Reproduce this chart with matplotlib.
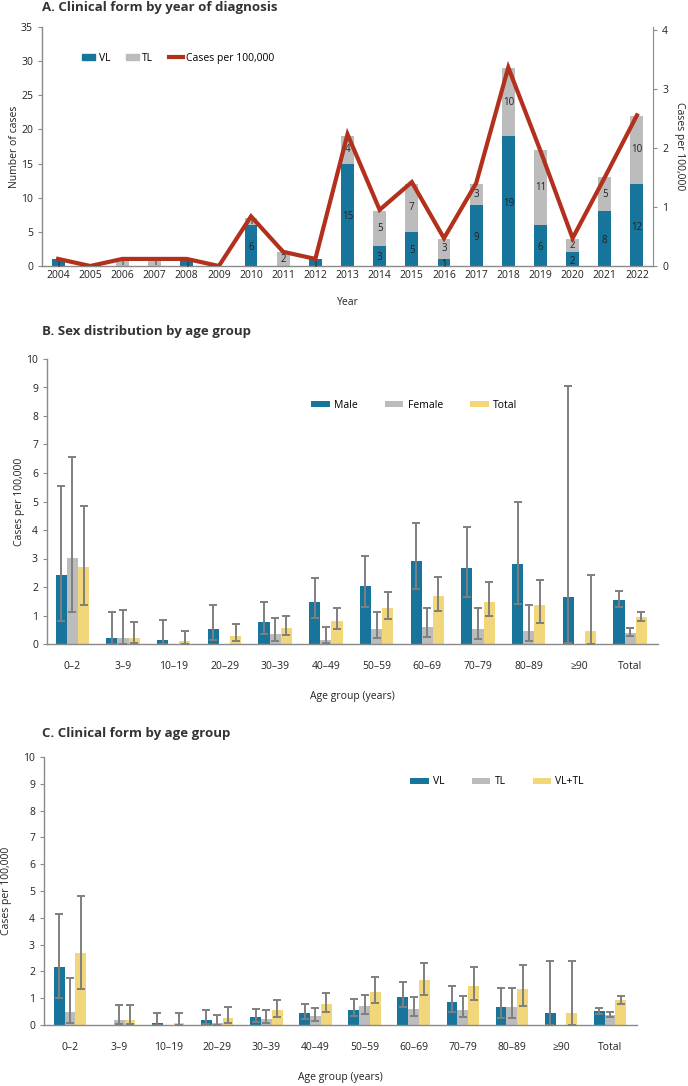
import numpy as np
import matplotlib
matplotlib.use("Agg")
import matplotlib.pyplot as plt
from matplotlib.patches import Patch
from matplotlib.lines import Line2D

plt.rcParams['font.family'] = ['Open Sans', 'DejaVu Sans']

# ---------------- Data ----------------
years = [str(y) for y in range(2004, 2023)]
vl_counts = [1, 0, 0, 0, 1, 0, 6, 0, 1, 15, 3, 5, 1, 9, 19, 6, 2, 8, 12]
tl_counts = [0, 0, 1, 1, 0, 0, 1, 2, 0, 4, 5, 7, 3, 3, 10, 11, 2, 5, 10]
rate_per_100k = [0.12, 0, 0.12, 0.12, 0.12, 0, 0.84, 0.24, 0.12, 2.23, 0.95, 1.42,
                 0.47, 1.4, 3.36, 1.95, 0.47, 1.5, 2.55]

age_groups = ['0–2', '3–9', '10–19', '20–29', '30–39', '40–49', '50–59', '60–69',
              '70–79', '80–89', '≥90', 'Total']

nan = np.nan
# Panel B: sex distribution
male = [2.41, 0.21, 0.15, 0.53, 0.78, 1.48, 2.05, 2.9, 2.65, 2.8, 1.64, 1.55]
male_lo = [0.8, 0.0, 0.0, 0.15, 0.36, 0.9, 1.31, 1.94, 1.64, 1.41, 0.03, 1.31]
male_hi = [5.55, 1.14, 0.85, 1.36, 1.49, 2.3, 3.1, 4.23, 4.1, 5.0, 9.05, 1.85]
female = [3.02, 0.21, 0, 0, 0.36, 0.15, 0.52, 0.59, 0.53, 0.47, 0, 0.38]
female_lo = [1.12, 0.0, nan, nan, 0.1, 0.03, 0.21, 0.23, 0.19, 0.09, nan, 0.29]
female_hi = [6.57, 1.2, nan, nan, 0.91, 0.58, 1.12, 1.28, 1.26, 1.36, nan, 0.56]
total = [2.7, 0.21, 0.09, 0.29, 0.57, 0.81, 1.28, 1.68, 1.49, 1.36, 0.44, 0.96]
total_lo = [1.36, 0.05, 0.0, 0.1, 0.33, 0.52, 0.87, 1.16, 1.0, 0.73, 0.0, 0.82]
total_hi = [4.83, 0.76, 0.44, 0.71, 0.99, 1.25, 1.83, 2.36, 2.18, 2.26, 2.41, 1.11]

# Panel C: clinical form
vl = [2.17, 0, 0.08, 0.2, 0.3, 0.45, 0.55, 1.05, 0.87, 0.67, 0.43, 0.51]
vl_lo = [1.0, nan, 0.0, 0.04, 0.12, 0.24, 0.33, 0.66, 0.49, 0.27, 0.0, 0.4]
vl_hi = [4.15, nan, 0.43, 0.57, 0.61, 0.79, 0.96, 1.6, 1.45, 1.38, 2.39, 0.65]
tl = [0.47, 0.2, 0, 0.06, 0.24, 0.33, 0.7, 0.6, 0.57, 0.67, 0, 0.37]
tl_lo = [0.06, 0.03, nan, 0.01, 0.09, 0.16, 0.4, 0.32, 0.28, 0.27, nan, 0.3]
tl_hi = [1.75, 0.73, nan, 0.38, 0.55, 0.65, 1.12, 1.05, 1.07, 1.38, nan, 0.48]
vltl = [2.68, 0.2, 0.07, 0.27, 0.55, 0.79, 1.25, 1.67, 1.45, 1.33, 0.43, 0.92]
vltl_lo = [1.34, 0.03, 0.0, 0.08, 0.3, 0.49, 0.83, 1.12, 0.94, 0.72, 0.0, 0.77]
vltl_hi = [4.8, 0.73, 0.43, 0.67, 0.94, 1.2, 1.8, 2.32, 2.15, 2.24, 2.39, 1.09]

# ---------------- Style ----------------
BLUE = '#17759c'
GREY = '#bcbcbc'
YELLOW = '#f1d77a'
RED = '#b3301d'
ERR = '#7f7f7f'
SPINE = '#8a8a8a'
TXT = '#222222'

fig = plt.figure(figsize=(6.88, 10.86), dpi=100)

def style_axes(ax):
    for s in ['top', 'right']:
        ax.spines[s].set_visible(False)
    for s in ['left', 'bottom']:
        ax.spines[s].set_color(SPINE)
        ax.spines[s].set_linewidth(1.0)
    ax.tick_params(axis='both', colors=SPINE, labelcolor=TXT, labelsize=7.5, length=3)

# ---------------- Panel A ----------------
axA = fig.add_axes([42/688, 1-266/1086, (653-42)/688, (266-27)/1086])
x = np.arange(len(years))
w = 0.4
axA.bar(x, vl_counts, w, color=BLUE, zorder=2)
axA.bar(x, tl_counts, w, bottom=vl_counts, color=GREY, zorder=2)
for i in range(len(years)):
    if vl_counts[i] > 0:
        axA.text(x[i], vl_counts[i]/2 - 0.3, str(vl_counts[i]), ha='center', va='center',
                 fontsize=7, color=TXT, zorder=4)
    if tl_counts[i] > 0:
        axA.text(x[i], vl_counts[i] + tl_counts[i]/2, str(tl_counts[i]), ha='center',
                 va='center', fontsize=7, color=TXT, zorder=4)
axA.set_xlim(-0.5, len(years)-0.5)
axA.set_ylim(0, 35)
axA.set_yticks(range(0, 36, 5))
axA.set_xticks(x)
axA.set_xticklabels(years)
style_axes(axA)
axA.tick_params(axis='x', length=0, pad=3)
axA.set_ylabel('Number of cases', fontsize=7.5, color=TXT)
axA.yaxis.set_label_coords((20-42)/611, 0.5)
axA.set_xlabel('Year', fontsize=7.5, color=TXT)
axA.xaxis.set_label_coords(0.5, -(302-266-5)/239)

axA2 = axA.twinx()
axA2.plot(x, rate_per_100k, color=RED, lw=3, zorder=5, solid_joinstyle='miter')
axA2.set_ylim(0, 4.045)
axA2.set_yticks(range(0, 5))
for s in ['top', 'left', 'bottom']:
    axA2.spines[s].set_visible(False)
axA2.spines['right'].set_color(SPINE)
axA2.tick_params(axis='y', colors=SPINE, labelcolor=TXT, labelsize=7.5, length=3)
axA2.set_ylabel('Cases per 100,000', fontsize=7.5, color=TXT, rotation=270, labelpad=12)

handlesA = [Patch(color=BLUE, label='VL'), Patch(color=GREY, label='TL'),
            Line2D([0], [0], color=RED, lw=3, label='Cases per 100,000')]
axA.legend(handles=handlesA, loc='center left', bbox_to_anchor=(0.05, 0.87), ncol=3,
           frameon=False, fontsize=7.5, handlelength=1.3, handleheight=0.5,
           handletextpad=0.3, columnspacing=1.5)

fig.text(42/688, 1-8/1086, 'A. Clinical form by year of diagnosis', fontsize=9.5,
         fontweight='bold', color='#333333', ha='left', va='center')

# ---------------- Grouped bar helper ----------------
def grouped(ax, series, colors, labels, legend_anchor, colsp, h_px, ylab_x):
    xg = np.arange(len(age_groups))
    bw = 0.22
    offs = [-bw, 0, bw]
    for (v, lo, hi), c, off, lab in zip(series, colors, offs, labels):
        v = np.array(v, float); lo = np.array(lo, float); hi = np.array(hi, float)
        ax.bar(xg + off, v, bw, color=c, label=lab, zorder=2)
        m = ~np.isnan(lo)
        ax.errorbar(xg[m] + off, v[m], yerr=[v[m]-lo[m], hi[m]-v[m]], fmt='none',
                    ecolor=ERR, elinewidth=1.4, capsize=3, capthick=1.4, zorder=3)
    ax.set_ylim(0, 10)
    ax.set_yticks(range(0, 11))
    ax.set_xticks(xg)
    ax.set_xticklabels(age_groups)
    style_axes(ax)
    ax.tick_params(axis='x', length=0, pad=12)
    ax.set_ylabel('Cases per 100,000', fontsize=7.5, color=TXT)
    ax.yaxis.set_label_coords(ylab_x, 0.5)
    ax.set_xlabel('Age group (years)', fontsize=7.5, color=TXT)
    ax.xaxis.set_label_coords(0.5, -(53-6)/h_px)
    ax.legend(loc='center', bbox_to_anchor=legend_anchor, ncol=3, frameon=False,
              fontsize=7.5, handlelength=1.8, handleheight=0.6, handletextpad=0.4,
              columnspacing=colsp)

# ---------------- Panel B ----------------
axB = fig.add_axes([47/688, 1-644/1086, (658-47)/688, (644-359)/1086])
grouped(axB, [(male, male_lo, male_hi), (female, female_lo, female_hi),
              (total, total_lo, total_hi)],
        [BLUE, GREY, YELLOW], ['Male', 'Female', 'Total'],
        ((414-47)/611, (644-405)/285), 2.6, 285, (25-47)/611)
axB.set_xlim(-0.5, len(age_groups)-0.45)
fig.text(42/688, 1-332/1086, 'B. Sex distribution by age group', fontsize=9.5,
         fontweight='bold', color='#333333', ha='left', va='center')

# ---------------- Panel C ----------------
axC = fig.add_axes([44/688, 1-1025/1086, (637-44)/688, (1025-757)/1086])
grouped(axC, [(vl, vl_lo, vl_hi), (tl, tl_lo, tl_hi), (vltl, vltl_lo, vltl_hi)],
        [BLUE, GREY, YELLOW], ['VL', 'TL', 'VL+TL'],
        ((497-44)/593, (1025-782)/268), 2.6, 268, (12-44)/593)
axC.set_xlim(-0.53, len(age_groups)-0.45)
fig.text(42/688, 1-734/1086, 'C. Clinical form by age group', fontsize=9.5,
         fontweight='bold', color='#333333', ha='left', va='center')

fig.savefig('out.png', dpi=100)
